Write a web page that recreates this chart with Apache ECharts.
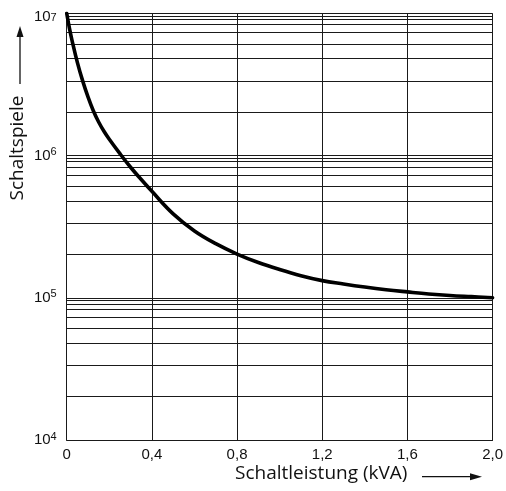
<!DOCTYPE html>
<html>
<head>
<meta charset="utf-8">
<script src="https://cdn.jsdelivr.net/npm/echarts@6/dist/echarts.min.js"></script>
<style>
html,body{margin:0;padding:0;background:#fff;}
#chart{width:506px;height:491px;}
</style>
</head>
<body>
<div id="chart"></div>
<script>
// Data
const loadKVA = [0, 0.0125, 0.025, 0.05, 0.075, 0.1, 0.125, 0.15, 0.175, 0.2, 0.25, 0.3, 0.35, 0.4, 0.5, 0.6, 0.7, 0.8, 0.9, 1.0, 1.1, 1.2, 1.3, 1.4, 1.5, 1.6, 1.7, 1.8, 1.9, 2.0];
const cycles = [1.0e7, 7.90e6, 6.46e6, 4.52e6, 3.35e6, 2.585e6, 2.065e6, 1.72e6, 1.48e6, 1.30e6, 1.03e6, 8.27e5, 6.78e5, 5.60e5, 3.89e5, 2.95e5, 2.40e5, 2.03e5, 1.77e5, 1.58e5, 1.43e5, 1.32e5, 1.25e5, 1.19e5, 1.14e5, 1.10e5, 1.064e5, 1.037e5, 1.018e5, 1.0e5];
const xTicks = [0, 0.4, 0.8, 1.2, 1.6, 2.0];
const decades = [1e4, 1e5, 1e6];
const gridSteps = [2.02, 3.33, 4.8, 6.08, 7.32, 8.32, 9.05, 9.55];
const xTitle = 'Schaltleistung (kVA)';
const yTitle = 'Schaltspiele';

const minorLines = [];
decades.forEach(d => gridSteps.forEach(s => minorLines.push({ yAxis: d * s })));

const chart = echarts.init(document.getElementById('chart'), null, { renderer: 'canvas' });
const lineCol = '#1a1a1a';
chart.setOption({
  animation: false,
  backgroundColor: '#fff',
  grid: { left: 66.7, right: 12.7, top: 13.3, bottom: 51, containLabel: false },
  xAxis: {
    type: 'value',
    min: xTicks[0],
    max: xTicks[xTicks.length - 1],
    interval: 0.4,
    axisLine: { show: true, lineStyle: { color: lineCol, width: 1 } },
    axisTick: { show: false },
    splitLine: { show: true, lineStyle: { color: lineCol, width: 1 } },
    axisLabel: {
      margin: 7,
      color: '#111',
      fontFamily: 'Liberation Sans',
      fontSize: 15,
      formatter: v => (Math.abs(v) < 1e-9 ? '0' : v.toFixed(1).replace('.', ','))
    }
  },
  yAxis: {
    type: 'log',
    logBase: 10,
    min: 1e4,
    max: 1e7,
    splitNumber: 3,
    axisLine: { show: true, lineStyle: { color: lineCol, width: 1 } },
    axisTick: { show: false },
    splitLine: { show: true, lineStyle: { color: lineCol, width: 1 } },
    axisLabel: {
      margin: 10,
      color: '#111',
      formatter: v => {
        const e = Math.round(Math.log10(v));
        if (e === 7) return '{bt|10}{st|' + e + '}';
        return '{b|10}{s|' + e + '}';
      },
      rich: {
        b: { fontFamily: 'Liberation Sans', fontSize: 15, lineHeight: 18, color: '#111' },
        s: { fontFamily: 'Liberation Sans', fontSize: 11, lineHeight: 11, verticalAlign: 'top', color: '#111' },
        bt: { fontFamily: 'Liberation Sans', fontSize: 15, lineHeight: 18, color: '#111', padding: [8, 0, 0, 0] },
        st: { fontFamily: 'Liberation Sans', fontSize: 11, lineHeight: 11, verticalAlign: 'top', color: '#111', padding: [8, 0, 0, 0] }
      }
    }
  },
  series: [
    {
      type: 'line',
      data: loadKVA.map((x, i) => [x, cycles[i]]),
      showSymbol: false,
      silent: true,
      z: 1,
      lineStyle: { opacity: 0 },
      markLine: {
        silent: true,
        symbol: ['none', 'none'],
        label: { show: false },
        lineStyle: { color: lineCol, width: 1, type: 'solid' },
        data: minorLines
      }
    },
    {
      type: 'line',
      data: loadKVA.map((x, i) => [x, cycles[i]]),
      smooth: 0.4,
      showSymbol: false,
      silent: true,
      z: 5,
      lineStyle: { color: '#000', width: 3.6, cap: 'round', join: 'round' }
    }
  ],
  graphic: [
    {
      type: 'text', left: 235, top: 464, z: 10,
      style: { text: xTitle, fontFamily: 'Open Sans', fontSize: 19, fill: '#111' }
    },
    {
      type: 'line', z: 10,
      shape: { x1: 422, y1: 476.7, x2: 472, y2: 476.7 },
      style: { stroke: '#111', lineWidth: 1.3 }
    },
    {
      type: 'polygon', z: 10,
      shape: { points: [[482, 476.7], [470, 473.2], [470, 480.2]] },
      style: { fill: '#111' }
    },
    {
      type: 'text', x: 18, y: 148, rotation: Math.PI / 2, z: 10,
      style: { text: yTitle, fontFamily: 'Open Sans', fontSize: 19, fill: '#111', align: 'center', verticalAlign: 'middle' }
    },
    {
      type: 'line', z: 10,
      shape: { x1: 20, y1: 84, x2: 20, y2: 36 },
      style: { stroke: '#111', lineWidth: 1.3 }
    },
    {
      type: 'polygon', z: 10,
      shape: { points: [[20, 26], [16.5, 37], [23.5, 37]] },
      style: { fill: '#111' }
    }
  ]
});
</script>
</body>
</html>
